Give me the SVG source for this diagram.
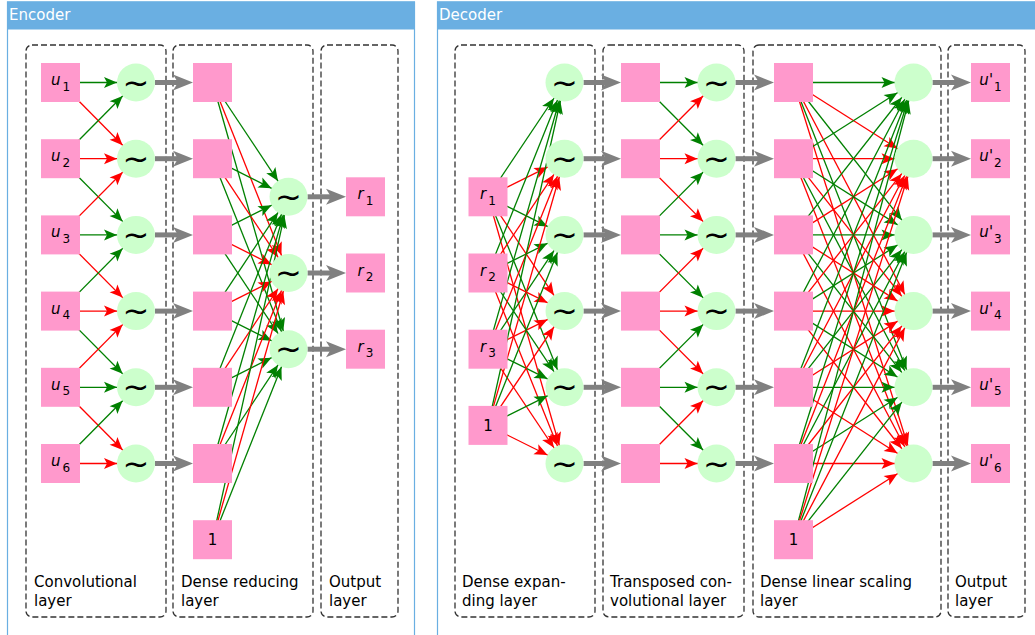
<svg xmlns="http://www.w3.org/2000/svg" width="1035" height="635" viewBox="0 0 1035 635">
<style>
.sq{fill:#ff99cc}
.ci{fill:#ccffcc}
.lbl{font-family:'DejaVu Sans',sans-serif;font-size:15px;fill:#000}
.it{font-style:italic}
.sub{font-size:12px}
.til{font-family:'DejaVu Sans',sans-serif;font-size:32px;fill:#000}
.hdr{font-family:'DejaVu Sans',sans-serif;font-size:15px;fill:#fff}
.box{fill:none;stroke:#333;stroke-width:1.3;stroke-dasharray:6,3}
.g{stroke:#008000;stroke-width:1.3;marker-end:url(#ag)}
.r{stroke:#ff0000;stroke-width:1.3;marker-end:url(#ar)}
.gr{stroke:#808080;stroke-width:5;marker-end:url(#agr)}
</style>
<defs>
<marker id="ag" markerUnits="userSpaceOnUse" orient="auto" overflow="visible" markerWidth="1" markerHeight="1" refX="0" refY="0"><path d="M-19,0 L-32,-5.5 L-29,0 L-32,5.5 z" fill="#008000"/></marker>
<marker id="ar" markerUnits="userSpaceOnUse" orient="auto" overflow="visible" markerWidth="1" markerHeight="1" refX="0" refY="0"><path d="M-19,0 L-32,-5.5 L-29,0 L-32,5.5 z" fill="#ff0000"/></marker>
<marker id="agr" markerUnits="userSpaceOnUse" orient="auto" overflow="visible" markerWidth="1" markerHeight="1" refX="0" refY="0"><path d="M10,0 L-10,-8 L-5,0 L-10,8 z" fill="#808080"/></marker>
</defs>

<g id="panels">
<rect x="7.5" y="2" width="407" height="640" fill="#fff" stroke="#6aafe2" stroke-width="1.2"/>
<rect x="7" y="1.5" width="408" height="28" fill="#6aafe2"/>
<text class="hdr" x="9" y="20">Encoder</text>
<rect x="437.5" y="2" width="610" height="640" fill="#fff" stroke="#6aafe2" stroke-width="1.2"/>
<rect x="437" y="1.5" width="600" height="28" fill="#6aafe2"/>
<text class="hdr" x="439" y="20">Decoder</text>
</g>

<g id="layers">
<rect class="box" x="26" y="45" width="140" height="572" rx="6"/>
<text class="lbl" x="34" y="587">Convolutional</text><text class="lbl" x="34" y="606">layer</text>
<rect class="box" x="173" y="45" width="140" height="572" rx="6"/>
<text class="lbl" x="181" y="587">Dense reducing</text><text class="lbl" x="181" y="606">layer</text>
<rect class="box" x="321" y="45" width="77" height="572" rx="6"/>
<text class="lbl" x="329" y="587">Output</text><text class="lbl" x="329" y="606">layer</text>
<rect class="box" x="455" y="45" width="140" height="572" rx="6"/>
<text class="lbl" x="462" y="587">Dense expan-</text><text class="lbl" x="462" y="606">ding layer</text>
<rect class="box" x="603" y="45" width="141" height="572" rx="6"/>
<text class="lbl" x="610" y="587">Transposed con-</text><text class="lbl" x="610" y="606">volutional layer</text>
<rect class="box" x="753" y="45" width="188" height="572" rx="6"/>
<text class="lbl" x="760" y="587">Dense linear scaling</text><text class="lbl" x="760" y="606">layer</text>
<rect class="box" x="948" y="45" width="77" height="572" rx="6"/>
<text class="lbl" x="955" y="587">Output</text><text class="lbl" x="955" y="606">layer</text>
</g>

<g id="connectors">
<!-- encoder convolutional -->
<line class="g" x1="60.5" y1="82.5" x2="136" y2="82.5"/>
<line class="r" x1="60.5" y1="82.5" x2="136" y2="158.7"/>
<line class="g" x1="60.5" y1="158.7" x2="136" y2="82.5"/>
<line class="r" x1="60.5" y1="158.7" x2="136" y2="158.7"/>
<line class="g" x1="60.5" y1="158.7" x2="136" y2="234.9"/>
<line class="r" x1="60.5" y1="234.9" x2="136" y2="158.7"/>
<line class="g" x1="60.5" y1="234.9" x2="136" y2="234.9"/>
<line class="r" x1="60.5" y1="234.9" x2="136" y2="311.1"/>
<line class="g" x1="60.5" y1="311.1" x2="136" y2="234.9"/>
<line class="r" x1="60.5" y1="311.1" x2="136" y2="311.1"/>
<line class="g" x1="60.5" y1="311.1" x2="136" y2="387.3"/>
<line class="r" x1="60.5" y1="387.3" x2="136" y2="311.1"/>
<line class="g" x1="60.5" y1="387.3" x2="136" y2="387.3"/>
<line class="r" x1="60.5" y1="387.3" x2="136" y2="463.5"/>
<line class="g" x1="60.5" y1="463.5" x2="136" y2="387.3"/>
<line class="r" x1="60.5" y1="463.5" x2="136" y2="463.5"/>
<!-- encoder gray -->
<line class="gr" x1="155" y1="82.5" x2="183" y2="82.5"/>
<line class="gr" x1="155" y1="158.7" x2="183" y2="158.7"/>
<line class="gr" x1="155" y1="234.9" x2="183" y2="234.9"/>
<line class="gr" x1="155" y1="311.1" x2="183" y2="311.1"/>
<line class="gr" x1="155" y1="387.3" x2="183" y2="387.3"/>
<line class="gr" x1="155" y1="463.5" x2="183" y2="463.5"/>
<!-- encoder dense reducing -->
<line class="g" x1="212.5" y1="82.5" x2="288.5" y2="196.8"/>
<line class="r" x1="212.5" y1="82.5" x2="288.5" y2="273"/>
<line class="g" x1="212.5" y1="82.5" x2="288.5" y2="349.2"/>
<line class="g" x1="212.5" y1="158.7" x2="288.5" y2="196.8"/>
<line class="r" x1="212.5" y1="158.7" x2="288.5" y2="273"/>
<line class="g" x1="212.5" y1="158.7" x2="288.5" y2="349.2"/>
<line class="g" x1="212.5" y1="234.9" x2="288.5" y2="196.8"/>
<line class="r" x1="212.5" y1="234.9" x2="288.5" y2="273"/>
<line class="g" x1="212.5" y1="234.9" x2="288.5" y2="349.2"/>
<line class="g" x1="212.5" y1="311.1" x2="288.5" y2="196.8"/>
<line class="r" x1="212.5" y1="311.1" x2="288.5" y2="273"/>
<line class="g" x1="212.5" y1="311.1" x2="288.5" y2="349.2"/>
<line class="g" x1="212.5" y1="387.3" x2="288.5" y2="196.8"/>
<line class="r" x1="212.5" y1="387.3" x2="288.5" y2="273"/>
<line class="g" x1="212.5" y1="387.3" x2="288.5" y2="349.2"/>
<line class="g" x1="212.5" y1="463.5" x2="288.5" y2="196.8"/>
<line class="r" x1="212.5" y1="463.5" x2="288.5" y2="273"/>
<line class="g" x1="212.5" y1="463.5" x2="288.5" y2="349.2"/>
<line class="g" x1="212.5" y1="539.7" x2="288.5" y2="196.8"/>
<line class="r" x1="212.5" y1="539.7" x2="288.5" y2="273"/>
<line class="g" x1="212.5" y1="539.7" x2="288.5" y2="349.2"/>
<line class="gr" x1="307.5" y1="196.8" x2="336" y2="196.8"/>
<line class="gr" x1="307.5" y1="273" x2="336" y2="273"/>
<line class="gr" x1="307.5" y1="349.2" x2="336" y2="349.2"/>
<!-- decoder dense expanding -->
<line class="g" x1="488" y1="196.8" x2="564.5" y2="82.5"/>
<line class="r" x1="488" y1="196.8" x2="564.5" y2="158.7"/>
<line class="g" x1="488" y1="196.8" x2="564.5" y2="234.9"/>
<line class="r" x1="488" y1="196.8" x2="564.5" y2="311.1"/>
<line class="g" x1="488" y1="196.8" x2="564.5" y2="387.3"/>
<line class="r" x1="488" y1="196.8" x2="564.5" y2="463.5"/>
<line class="g" x1="488" y1="273" x2="564.5" y2="82.5"/>
<line class="r" x1="488" y1="273" x2="564.5" y2="158.7"/>
<line class="g" x1="488" y1="273" x2="564.5" y2="234.9"/>
<line class="r" x1="488" y1="273" x2="564.5" y2="311.1"/>
<line class="g" x1="488" y1="273" x2="564.5" y2="387.3"/>
<line class="r" x1="488" y1="273" x2="564.5" y2="463.5"/>
<line class="g" x1="488" y1="349.2" x2="564.5" y2="82.5"/>
<line class="r" x1="488" y1="349.2" x2="564.5" y2="158.7"/>
<line class="g" x1="488" y1="349.2" x2="564.5" y2="234.9"/>
<line class="r" x1="488" y1="349.2" x2="564.5" y2="311.1"/>
<line class="g" x1="488" y1="349.2" x2="564.5" y2="387.3"/>
<line class="r" x1="488" y1="349.2" x2="564.5" y2="463.5"/>
<line class="g" x1="488" y1="425.4" x2="564.5" y2="82.5"/>
<line class="r" x1="488" y1="425.4" x2="564.5" y2="158.7"/>
<line class="g" x1="488" y1="425.4" x2="564.5" y2="234.9"/>
<line class="r" x1="488" y1="425.4" x2="564.5" y2="311.1"/>
<line class="g" x1="488" y1="425.4" x2="564.5" y2="387.3"/>
<line class="r" x1="488" y1="425.4" x2="564.5" y2="463.5"/>
<line class="gr" x1="583.5" y1="82.5" x2="611" y2="82.5"/>
<line class="gr" x1="583.5" y1="158.7" x2="611" y2="158.7"/>
<line class="gr" x1="583.5" y1="234.9" x2="611" y2="234.9"/>
<line class="gr" x1="583.5" y1="311.1" x2="611" y2="311.1"/>
<line class="gr" x1="583.5" y1="387.3" x2="611" y2="387.3"/>
<line class="gr" x1="583.5" y1="463.5" x2="611" y2="463.5"/>
<!-- decoder transposed convolutional -->
<line class="g" x1="640.5" y1="82.5" x2="716.5" y2="82.5"/>
<line class="g" x1="640.5" y1="82.5" x2="716.5" y2="158.7"/>
<line class="r" x1="640.5" y1="158.7" x2="716.5" y2="82.5"/>
<line class="r" x1="640.5" y1="158.7" x2="716.5" y2="158.7"/>
<line class="r" x1="640.5" y1="158.7" x2="716.5" y2="234.9"/>
<line class="g" x1="640.5" y1="234.9" x2="716.5" y2="158.7"/>
<line class="g" x1="640.5" y1="234.9" x2="716.5" y2="234.9"/>
<line class="g" x1="640.5" y1="234.9" x2="716.5" y2="311.1"/>
<line class="r" x1="640.5" y1="311.1" x2="716.5" y2="234.9"/>
<line class="r" x1="640.5" y1="311.1" x2="716.5" y2="311.1"/>
<line class="r" x1="640.5" y1="311.1" x2="716.5" y2="387.3"/>
<line class="g" x1="640.5" y1="387.3" x2="716.5" y2="311.1"/>
<line class="g" x1="640.5" y1="387.3" x2="716.5" y2="387.3"/>
<line class="g" x1="640.5" y1="387.3" x2="716.5" y2="463.5"/>
<line class="r" x1="640.5" y1="463.5" x2="716.5" y2="387.3"/>
<line class="r" x1="640.5" y1="463.5" x2="716.5" y2="463.5"/>
<line class="gr" x1="735.5" y1="82.5" x2="764" y2="82.5"/>
<line class="gr" x1="735.5" y1="158.7" x2="764" y2="158.7"/>
<line class="gr" x1="735.5" y1="234.9" x2="764" y2="234.9"/>
<line class="gr" x1="735.5" y1="311.1" x2="764" y2="311.1"/>
<line class="gr" x1="735.5" y1="387.3" x2="764" y2="387.3"/>
<line class="gr" x1="735.5" y1="463.5" x2="764" y2="463.5"/>
<!-- decoder dense linear scaling -->
<line class="g" x1="793.5" y1="82.5" x2="913.5" y2="82.5"/>
<line class="r" x1="793.5" y1="82.5" x2="913.5" y2="158.7"/>
<line class="g" x1="793.5" y1="82.5" x2="913.5" y2="234.9"/>
<line class="r" x1="793.5" y1="82.5" x2="913.5" y2="311.1"/>
<line class="g" x1="793.5" y1="82.5" x2="913.5" y2="387.3"/>
<line class="r" x1="793.5" y1="82.5" x2="913.5" y2="463.5"/>
<line class="g" x1="793.5" y1="158.7" x2="913.5" y2="82.5"/>
<line class="r" x1="793.5" y1="158.7" x2="913.5" y2="158.7"/>
<line class="g" x1="793.5" y1="158.7" x2="913.5" y2="234.9"/>
<line class="r" x1="793.5" y1="158.7" x2="913.5" y2="311.1"/>
<line class="g" x1="793.5" y1="158.7" x2="913.5" y2="387.3"/>
<line class="r" x1="793.5" y1="158.7" x2="913.5" y2="463.5"/>
<line class="g" x1="793.5" y1="234.9" x2="913.5" y2="82.5"/>
<line class="r" x1="793.5" y1="234.9" x2="913.5" y2="158.7"/>
<line class="g" x1="793.5" y1="234.9" x2="913.5" y2="234.9"/>
<line class="r" x1="793.5" y1="234.9" x2="913.5" y2="311.1"/>
<line class="g" x1="793.5" y1="234.9" x2="913.5" y2="387.3"/>
<line class="r" x1="793.5" y1="234.9" x2="913.5" y2="463.5"/>
<line class="g" x1="793.5" y1="311.1" x2="913.5" y2="82.5"/>
<line class="r" x1="793.5" y1="311.1" x2="913.5" y2="158.7"/>
<line class="g" x1="793.5" y1="311.1" x2="913.5" y2="234.9"/>
<line class="r" x1="793.5" y1="311.1" x2="913.5" y2="311.1"/>
<line class="g" x1="793.5" y1="311.1" x2="913.5" y2="387.3"/>
<line class="r" x1="793.5" y1="311.1" x2="913.5" y2="463.5"/>
<line class="g" x1="793.5" y1="387.3" x2="913.5" y2="82.5"/>
<line class="r" x1="793.5" y1="387.3" x2="913.5" y2="158.7"/>
<line class="g" x1="793.5" y1="387.3" x2="913.5" y2="234.9"/>
<line class="r" x1="793.5" y1="387.3" x2="913.5" y2="311.1"/>
<line class="g" x1="793.5" y1="387.3" x2="913.5" y2="387.3"/>
<line class="r" x1="793.5" y1="387.3" x2="913.5" y2="463.5"/>
<line class="g" x1="793.5" y1="463.5" x2="913.5" y2="82.5"/>
<line class="r" x1="793.5" y1="463.5" x2="913.5" y2="158.7"/>
<line class="g" x1="793.5" y1="463.5" x2="913.5" y2="234.9"/>
<line class="r" x1="793.5" y1="463.5" x2="913.5" y2="311.1"/>
<line class="g" x1="793.5" y1="463.5" x2="913.5" y2="387.3"/>
<line class="r" x1="793.5" y1="463.5" x2="913.5" y2="463.5"/>
<line class="g" x1="793.5" y1="539.7" x2="913.5" y2="82.5"/>
<line class="r" x1="793.5" y1="539.7" x2="913.5" y2="158.7"/>
<line class="g" x1="793.5" y1="539.7" x2="913.5" y2="234.9"/>
<line class="r" x1="793.5" y1="539.7" x2="913.5" y2="311.1"/>
<line class="g" x1="793.5" y1="539.7" x2="913.5" y2="387.3"/>
<line class="r" x1="793.5" y1="539.7" x2="913.5" y2="463.5"/>
<line class="gr" x1="932.5" y1="82.5" x2="961" y2="82.5"/>
<line class="gr" x1="932.5" y1="158.7" x2="961" y2="158.7"/>
<line class="gr" x1="932.5" y1="234.9" x2="961" y2="234.9"/>
<line class="gr" x1="932.5" y1="311.1" x2="961" y2="311.1"/>
<line class="gr" x1="932.5" y1="387.3" x2="961" y2="387.3"/>
<line class="gr" x1="932.5" y1="463.5" x2="961" y2="463.5"/>
</g>

<!-- encoder nodes -->
<g id="enc-u1"><rect class="sq" x="41" y="63" width="39" height="39"/><text class="lbl" x="60.5" y="85" text-anchor="middle"><tspan class="it">u</tspan><tspan class="sub" dx="2" dy="5.5">1</tspan></text></g>
<g id="enc-u2"><rect class="sq" x="41" y="139.2" width="39" height="39"/><text class="lbl" x="60.5" y="161.2" text-anchor="middle"><tspan class="it">u</tspan><tspan class="sub" dx="2" dy="5.5">2</tspan></text></g>
<g id="enc-u3"><rect class="sq" x="41" y="215.4" width="39" height="39"/><text class="lbl" x="60.5" y="237.4" text-anchor="middle"><tspan class="it">u</tspan><tspan class="sub" dx="2" dy="5.5">3</tspan></text></g>
<g id="enc-u4"><rect class="sq" x="41" y="291.6" width="39" height="39"/><text class="lbl" x="60.5" y="313.6" text-anchor="middle"><tspan class="it">u</tspan><tspan class="sub" dx="2" dy="5.5">4</tspan></text></g>
<g id="enc-u5"><rect class="sq" x="41" y="367.8" width="39" height="39"/><text class="lbl" x="60.5" y="389.8" text-anchor="middle"><tspan class="it">u</tspan><tspan class="sub" dx="2" dy="5.5">5</tspan></text></g>
<g id="enc-u6"><rect class="sq" x="41" y="444" width="39" height="39"/><text class="lbl" x="60.5" y="466" text-anchor="middle"><tspan class="it">u</tspan><tspan class="sub" dx="2" dy="5.5">6</tspan></text></g>

<g id="enc-c1"><circle class="ci" cx="136" cy="82.5" r="19"/><text class="til" x="136" y="93.5" text-anchor="middle">~</text></g>
<g id="enc-c2"><circle class="ci" cx="136" cy="158.7" r="19"/><text class="til" x="136" y="169.7" text-anchor="middle">~</text></g>
<g id="enc-c3"><circle class="ci" cx="136" cy="234.9" r="19"/><text class="til" x="136" y="245.9" text-anchor="middle">~</text></g>
<g id="enc-c4"><circle class="ci" cx="136" cy="311.1" r="19"/><text class="til" x="136" y="322.1" text-anchor="middle">~</text></g>
<g id="enc-c5"><circle class="ci" cx="136" cy="387.3" r="19"/><text class="til" x="136" y="398.3" text-anchor="middle">~</text></g>
<g id="enc-c6"><circle class="ci" cx="136" cy="463.5" r="19"/><text class="til" x="136" y="474.5" text-anchor="middle">~</text></g>

<g id="enc-d1"><rect class="sq" x="193" y="63" width="39" height="39"/></g>
<g id="enc-d2"><rect class="sq" x="193" y="139.2" width="39" height="39"/></g>
<g id="enc-d3"><rect class="sq" x="193" y="215.4" width="39" height="39"/></g>
<g id="enc-d4"><rect class="sq" x="193" y="291.6" width="39" height="39"/></g>
<g id="enc-d5"><rect class="sq" x="193" y="367.8" width="39" height="39"/></g>
<g id="enc-d6"><rect class="sq" x="193" y="444" width="39" height="39"/></g>
<g id="enc-bias"><rect class="sq" x="193" y="520.2" width="39" height="39"/><text class="lbl" x="212.5" y="545" text-anchor="middle">1</text></g>

<g id="enc-h1"><circle class="ci" cx="288.5" cy="196.8" r="19"/><text class="til" x="288.5" y="207.8" text-anchor="middle">~</text></g>
<g id="enc-h2"><circle class="ci" cx="288.5" cy="273" r="19"/><text class="til" x="288.5" y="284" text-anchor="middle">~</text></g>
<g id="enc-h3"><circle class="ci" cx="288.5" cy="349.2" r="19"/><text class="til" x="288.5" y="360.2" text-anchor="middle">~</text></g>

<g id="enc-r1"><rect class="sq" x="346" y="177.3" width="39" height="39"/><text class="lbl" x="365.5" y="199.3" text-anchor="middle"><tspan class="it">r</tspan><tspan class="sub" dx="2" dy="5.5">1</tspan></text></g>
<g id="enc-r2"><rect class="sq" x="346" y="253.5" width="39" height="39"/><text class="lbl" x="365.5" y="275.5" text-anchor="middle"><tspan class="it">r</tspan><tspan class="sub" dx="2" dy="5.5">2</tspan></text></g>
<g id="enc-r3"><rect class="sq" x="346" y="329.7" width="39" height="39"/><text class="lbl" x="365.5" y="351.7" text-anchor="middle"><tspan class="it">r</tspan><tspan class="sub" dx="2" dy="5.5">3</tspan></text></g>

<!-- decoder nodes -->
<g id="dec-r1"><rect class="sq" x="468.5" y="177.3" width="39" height="39"/><text class="lbl" x="488" y="199.3" text-anchor="middle"><tspan class="it">r</tspan><tspan class="sub" dx="2" dy="5.5">1</tspan></text></g>
<g id="dec-r2"><rect class="sq" x="468.5" y="253.5" width="39" height="39"/><text class="lbl" x="488" y="275.5" text-anchor="middle"><tspan class="it">r</tspan><tspan class="sub" dx="2" dy="5.5">2</tspan></text></g>
<g id="dec-r3"><rect class="sq" x="468.5" y="329.7" width="39" height="39"/><text class="lbl" x="488" y="351.7" text-anchor="middle"><tspan class="it">r</tspan><tspan class="sub" dx="2" dy="5.5">3</tspan></text></g>
<g id="dec-bias1"><rect class="sq" x="468.5" y="405.9" width="39" height="39"/><text class="lbl" x="488" y="430.9" text-anchor="middle">1</text></g>

<g id="dec-e1"><circle class="ci" cx="564.5" cy="82.5" r="19"/><text class="til" x="564.5" y="93.5" text-anchor="middle">~</text></g>
<g id="dec-e2"><circle class="ci" cx="564.5" cy="158.7" r="19"/><text class="til" x="564.5" y="169.7" text-anchor="middle">~</text></g>
<g id="dec-e3"><circle class="ci" cx="564.5" cy="234.9" r="19"/><text class="til" x="564.5" y="245.9" text-anchor="middle">~</text></g>
<g id="dec-e4"><circle class="ci" cx="564.5" cy="311.1" r="19"/><text class="til" x="564.5" y="322.1" text-anchor="middle">~</text></g>
<g id="dec-e5"><circle class="ci" cx="564.5" cy="387.3" r="19"/><text class="til" x="564.5" y="398.3" text-anchor="middle">~</text></g>
<g id="dec-e6"><circle class="ci" cx="564.5" cy="463.5" r="19"/><text class="til" x="564.5" y="474.5" text-anchor="middle">~</text></g>

<g id="dec-t1"><rect class="sq" x="621" y="63" width="39" height="39"/></g>
<g id="dec-t2"><rect class="sq" x="621" y="139.2" width="39" height="39"/></g>
<g id="dec-t3"><rect class="sq" x="621" y="215.4" width="39" height="39"/></g>
<g id="dec-t4"><rect class="sq" x="621" y="291.6" width="39" height="39"/></g>
<g id="dec-t5"><rect class="sq" x="621" y="367.8" width="39" height="39"/></g>
<g id="dec-t6"><rect class="sq" x="621" y="444" width="39" height="39"/></g>

<g id="dec-f1"><circle class="ci" cx="716.5" cy="82.5" r="19"/><text class="til" x="716.5" y="93.5" text-anchor="middle">~</text></g>
<g id="dec-f2"><circle class="ci" cx="716.5" cy="158.7" r="19"/><text class="til" x="716.5" y="169.7" text-anchor="middle">~</text></g>
<g id="dec-f3"><circle class="ci" cx="716.5" cy="234.9" r="19"/><text class="til" x="716.5" y="245.9" text-anchor="middle">~</text></g>
<g id="dec-f4"><circle class="ci" cx="716.5" cy="311.1" r="19"/><text class="til" x="716.5" y="322.1" text-anchor="middle">~</text></g>
<g id="dec-f5"><circle class="ci" cx="716.5" cy="387.3" r="19"/><text class="til" x="716.5" y="398.3" text-anchor="middle">~</text></g>
<g id="dec-f6"><circle class="ci" cx="716.5" cy="463.5" r="19"/><text class="til" x="716.5" y="474.5" text-anchor="middle">~</text></g>

<g id="dec-s1"><rect class="sq" x="774" y="63" width="39" height="39"/></g>
<g id="dec-s2"><rect class="sq" x="774" y="139.2" width="39" height="39"/></g>
<g id="dec-s3"><rect class="sq" x="774" y="215.4" width="39" height="39"/></g>
<g id="dec-s4"><rect class="sq" x="774" y="291.6" width="39" height="39"/></g>
<g id="dec-s5"><rect class="sq" x="774" y="367.8" width="39" height="39"/></g>
<g id="dec-s6"><rect class="sq" x="774" y="444" width="39" height="39"/></g>
<g id="dec-bias2"><rect class="sq" x="774" y="520.2" width="39" height="39"/><text class="lbl" x="793.5" y="545" text-anchor="middle">1</text></g>

<g id="dec-g1"><circle class="ci" cx="913.5" cy="82.5" r="19"/></g>
<g id="dec-g2"><circle class="ci" cx="913.5" cy="158.7" r="19"/></g>
<g id="dec-g3"><circle class="ci" cx="913.5" cy="234.9" r="19"/></g>
<g id="dec-g4"><circle class="ci" cx="913.5" cy="311.1" r="19"/></g>
<g id="dec-g5"><circle class="ci" cx="913.5" cy="387.3" r="19"/></g>
<g id="dec-g6"><circle class="ci" cx="913.5" cy="463.5" r="19"/></g>

<g id="dec-u1"><rect class="sq" x="971" y="63" width="39" height="39"/><text class="lbl" x="990.5" y="85" text-anchor="middle"><tspan class="it">u</tspan>'<tspan class="sub" dx="1" dy="5.5">1</tspan></text></g>
<g id="dec-u2"><rect class="sq" x="971" y="139.2" width="39" height="39"/><text class="lbl" x="990.5" y="161.2" text-anchor="middle"><tspan class="it">u</tspan>'<tspan class="sub" dx="1" dy="5.5">2</tspan></text></g>
<g id="dec-u3"><rect class="sq" x="971" y="215.4" width="39" height="39"/><text class="lbl" x="990.5" y="237.4" text-anchor="middle"><tspan class="it">u</tspan>'<tspan class="sub" dx="1" dy="5.5">3</tspan></text></g>
<g id="dec-u4"><rect class="sq" x="971" y="291.6" width="39" height="39"/><text class="lbl" x="990.5" y="313.6" text-anchor="middle"><tspan class="it">u</tspan>'<tspan class="sub" dx="1" dy="5.5">4</tspan></text></g>
<g id="dec-u5"><rect class="sq" x="971" y="367.8" width="39" height="39"/><text class="lbl" x="990.5" y="389.8" text-anchor="middle"><tspan class="it">u</tspan>'<tspan class="sub" dx="1" dy="5.5">5</tspan></text></g>
<g id="dec-u6"><rect class="sq" x="971" y="444" width="39" height="39"/><text class="lbl" x="990.5" y="466" text-anchor="middle"><tspan class="it">u</tspan>'<tspan class="sub" dx="1" dy="5.5">6</tspan></text></g>
</svg>
